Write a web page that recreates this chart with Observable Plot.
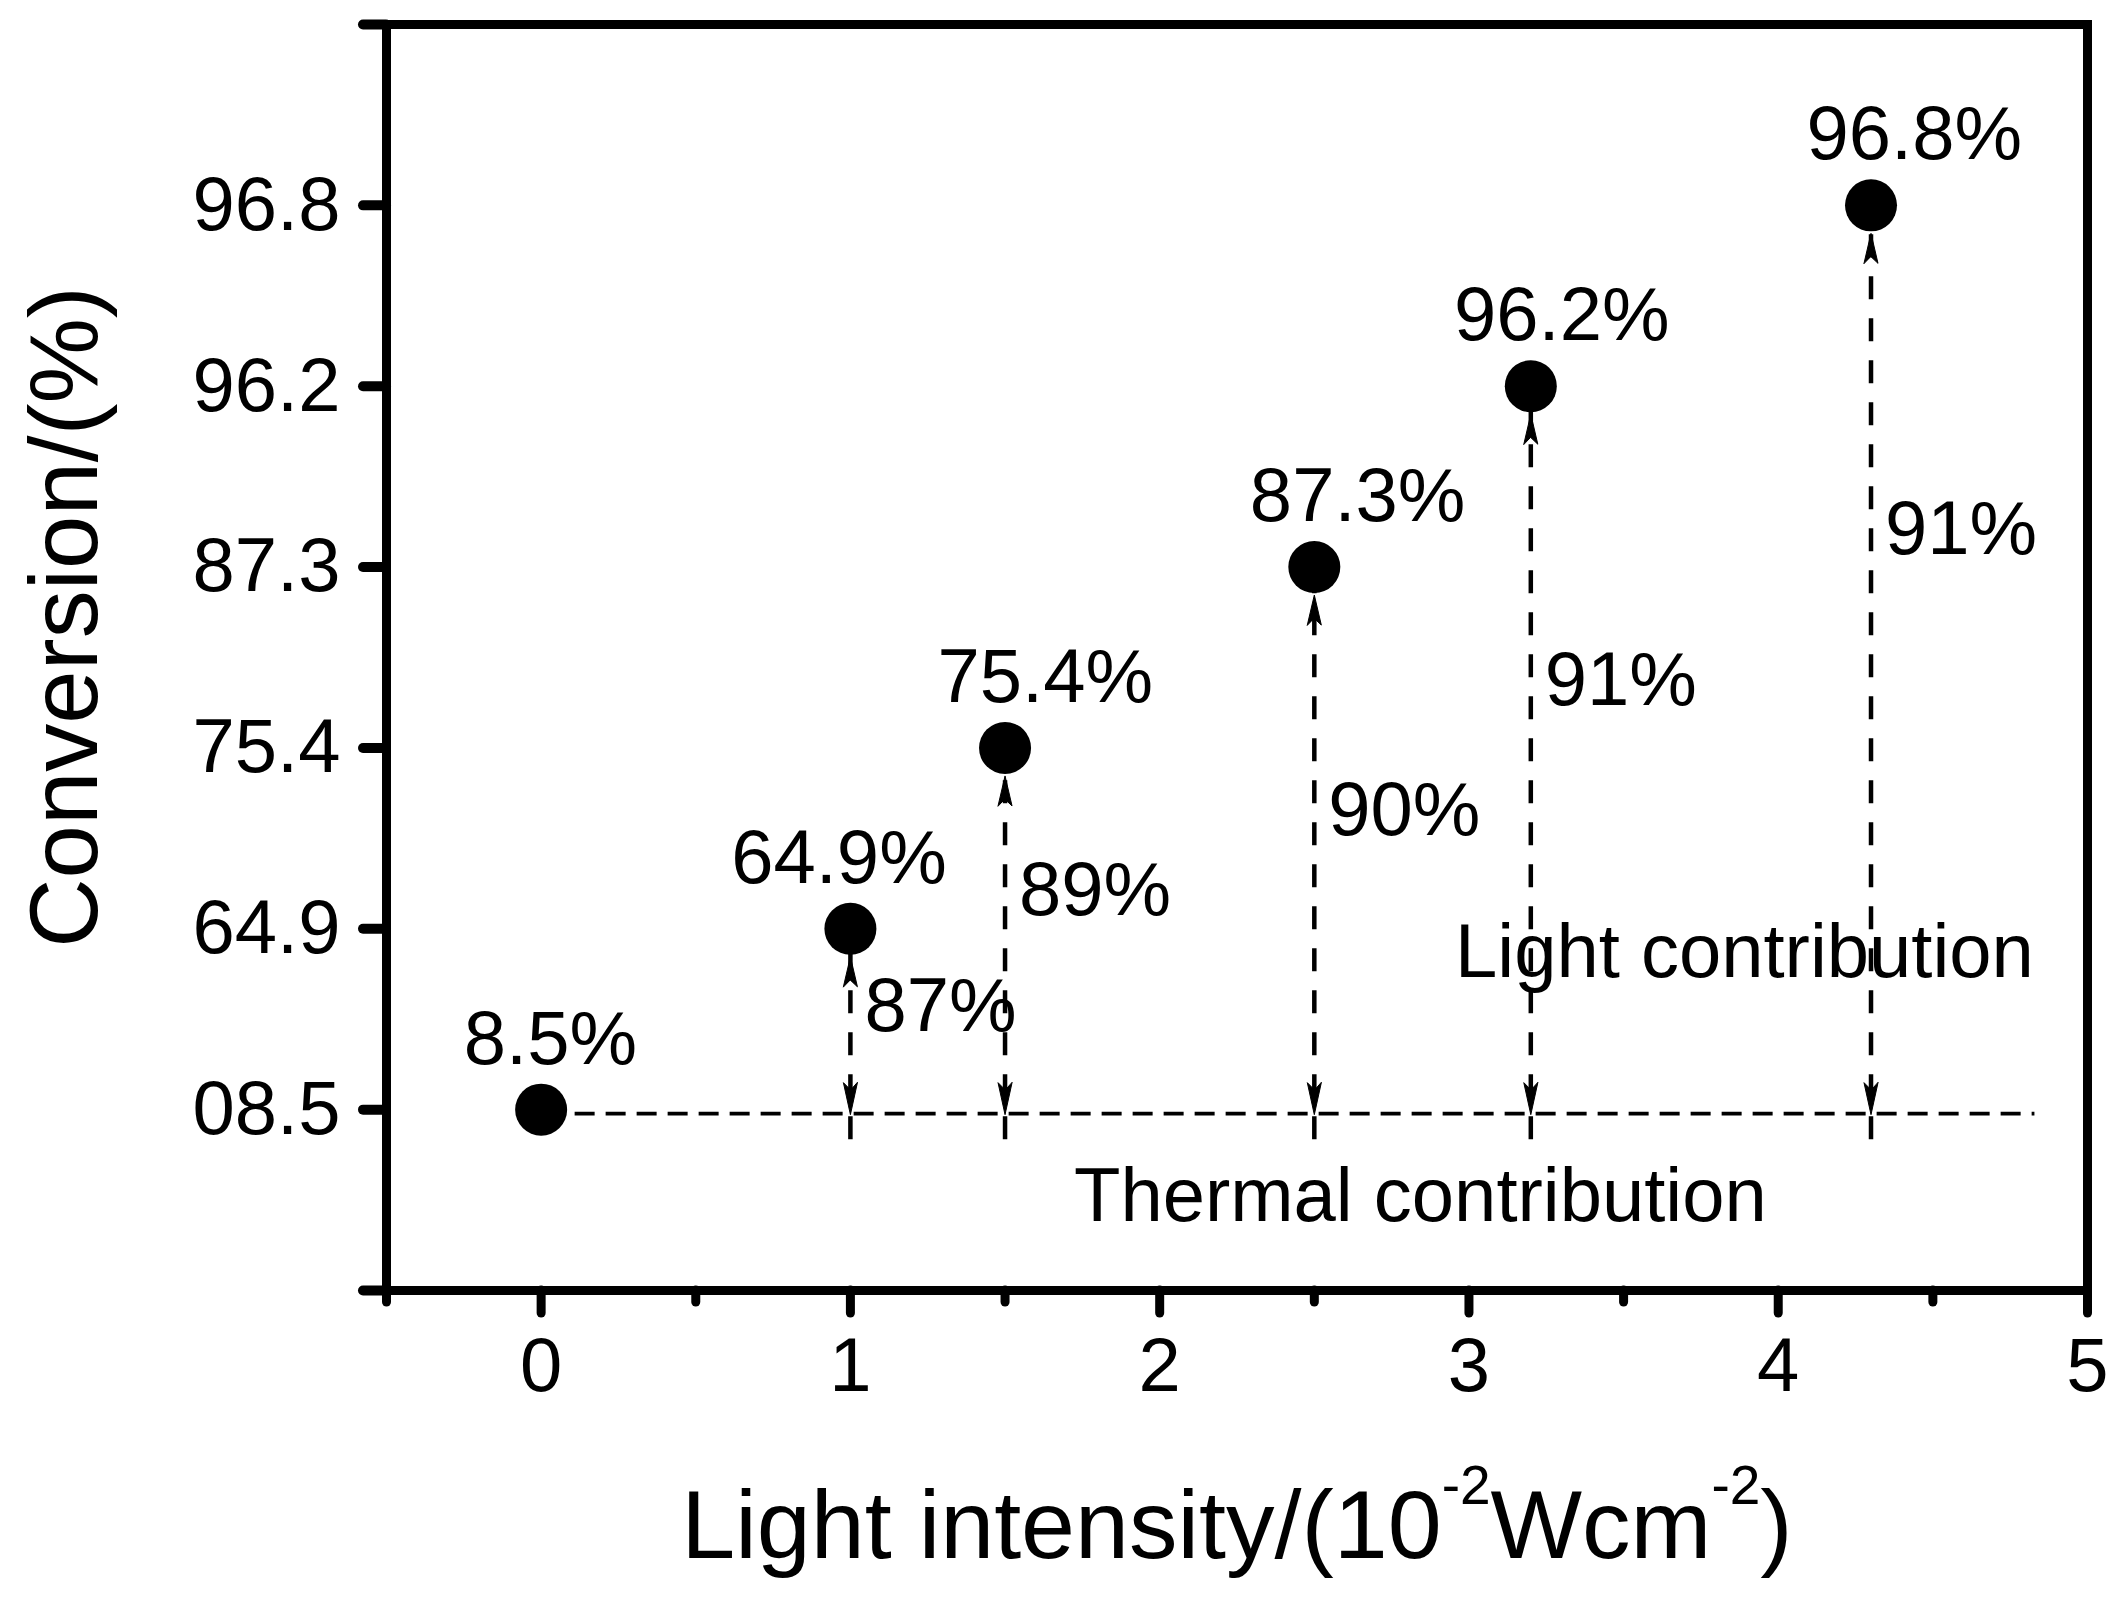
<!DOCTYPE html>
<html>
<head>
<meta charset="utf-8">
<script src="https://cdn.jsdelivr.net/npm/d3@7"></script>
<script src="https://cdn.jsdelivr.net/npm/@observablehq/plot@0.6"></script>
<style>
  html, body { margin: 0; padding: 0; background: white; }
  #chart svg { display: block; }
</style>
</head>
<body>
<div id="chart"></div>
<script>
// ---- data ----
const intensity = [0, 1, 1.5, 2.5, 3.2, 4.3];            // 10^-2 W cm^-2
const conversion = [8.5, 64.9, 75.4, 87.3, 96.2, 96.8];  // %
const yTickLabels = ["08.5", "64.9", "75.4", "87.3", "96.2", "96.8"];
const xTicks = [0, 1, 2, 3, 4, 5];
const xMinorTicks = [-0.5, 0.5, 1.5, 2.5, 3.5, 4.5];
const lightShare = [87, 89, 90, 91, 91];                  // % light contribution (points 2..6)
// annotation anchors (data units)
const valueLabelX = [0.03, 0.963, 1.63, 2.64, 3.30, 4.44];
const shareLabelY = [0.436, 1.077, 1.52, 2.24, 3.07];
const baselineEndX = 4.83;

const points = intensity.map((x, i) => ({x, i, conv: conversion[i], lx: valueLabelX[i]}));
const arrows = lightShare.map((s, k) => ({x: intensity[k + 1], i: k + 1, share: s, ly: shareLabelY[k]}));

const FS = 76;
const arrowShape = {
  draw(context, l, r) {
    context.moveTo(-r, 0);
    context.lineTo(0, -l);
    context.lineTo(r, 0);
    context.lineTo(0, -l * 0.22);
    context.closePath();
  }
};

const chart = Plot.plot({
  width: 2127,
  height: 1601,
  marginLeft: 386,
  marginRight: 40,
  marginTop: 24,
  marginBottom: 311,
  style: {fontFamily: "'Liberation Sans', Arial, sans-serif", background: "white", color: "black", overflow: "visible"},
  x: {domain: [-0.5, 5]},
  y: {domain: [-1, 6]},
  marks: [
    // thermal baseline
    Plot.ruleY([0], {x1: 0, x2: baselineEndX, insetLeft: 34, dy: 4, stroke: "black", strokeWidth: 3.8, strokeDasharray: "20,11"}),
    // light contribution arrows
    Plot.ruleX(arrows, {x: "x", y1: 0, y2: "i", insetTop: 30, insetBottom: -4, stroke: "black", strokeWidth: 4.5, strokeDasharray: "23,19"}),
    Plot.vector(arrows, {x: "x", y: "i", dy: 28, rotate: 0, length: 30, r: 7, anchor: "end", shape: arrowShape, fill: "black", stroke: "black", strokeWidth: 1}),
    Plot.vector(arrows, {x: "x", y: 0, dy: 5, rotate: 180, length: 32, r: 7, anchor: "end", shape: arrowShape, fill: "black", stroke: "black", strokeWidth: 1}),
    // points
    Plot.dot(points, {x: "x", y: "i", r: 26, fill: "black", stroke: "none"}),
    // value labels
    Plot.text(points, {x: "lx", y: "i", text: d => d.conv + "%", dy: -46, lineAnchor: "bottom", fontSize: FS, fill: "black"}),
    Plot.text(arrows, {x: "x", y: "ly", text: d => d.share + "%", dx: 14, textAnchor: "start", lineAnchor: "bottom", fontSize: FS, fill: "black"}),
    Plot.text(["Light contribution"], {x: 2.955, y: 0.735, textAnchor: "start", lineAnchor: "bottom", fontSize: FS, fill: "black"}),
    Plot.text(["Thermal contribution"], {x: 1.723, y: -0.616, textAnchor: "start", lineAnchor: "bottom", fontSize: FS, fill: "black"}),
    // frame & axes
    Plot.frame({stroke: "black", strokeWidth: 9}),
    Plot.axisY({ticks: [-1, 0, 1, 2, 3, 4, 5, 6], tickSize: 23, tickPadding: 23, tickFormat: d => yTickLabels[d] ?? "", fontSize: FS, strokeWidth: 10, strokeLinecap: "round", label: null}),
    Plot.axisX({ticks: xTicks, tickSize: 23, tickPadding: 24, tickFormat: d => String(d), fontSize: FS, strokeWidth: 9, strokeLinecap: "round", label: null}),
    Plot.axisX({ticks: xMinorTicks, tickSize: 12, tickFormat: () => "", strokeWidth: 9, strokeLinecap: "round", label: null})
  ]
});

document.getElementById("chart").appendChild(chart);

// axis titles (with superscripts)
const svg = d3.select(chart);
const xt = svg.append("text")
  .attr("x", 1237).attr("y", 1558)
  .attr("text-anchor", "middle")
  .attr("font-family", "'Liberation Sans', Arial, sans-serif")
  .attr("font-size", 97)
  .attr("fill", "black");
xt.append("tspan").text("Light intensity/(10");
xt.append("tspan").attr("font-size", 55).attr("dy", -54).text("-2");
xt.append("tspan").attr("dy", 54).text("Wcm");
xt.append("tspan").attr("font-size", 55).attr("dy", -54).text("-2");
xt.append("tspan").attr("dy", 54).text(")");

svg.append("text")
  .attr("transform", "translate(97,617) rotate(-90)")
  .attr("text-anchor", "middle")
  .attr("font-family", "'Liberation Sans', Arial, sans-serif")
  .attr("font-size", 96)
  .attr("fill", "black")
  .text("Conversion/(%)");
</script>
</body>
</html>
